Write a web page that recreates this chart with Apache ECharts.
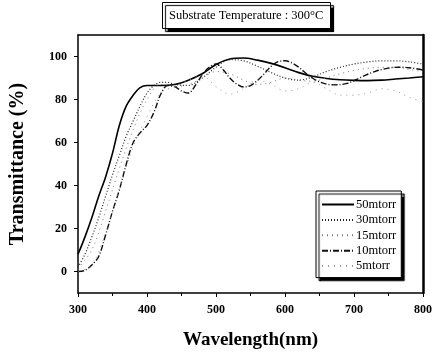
<!DOCTYPE html>
<html>
<head>
<meta charset="utf-8">
<script src="https://cdn.jsdelivr.net/npm/echarts@6/dist/echarts.min.js"></script>
<style>
  html, body { margin: 0; padding: 0; background: #fff; }
  #chart { width: 435px; height: 355px; }
</style>
</head>
<body>
<div id="chart"></div>
<script>
// wavelength (nm), transmittance (%) pairs
const t50 = [[300,8],[310,16],[320,25],[330,35],[340,44],[350,55],[360,68],[370,77],[380,82],[390,85.5],[400,86.5],[420,86.5],[440,87],[460,89],[480,92],[500,96.3],[520,98.8],[540,99.3],[560,98.3],[580,96.8],[600,94.8],[620,92.5],[640,90.8],[660,89.8],[680,89.2],[700,88.9],[720,88.8],[740,89],[760,89.5],[780,90],[800,90.6]];
const t30 = [[300,2],[310,8],[320,16],[330,25],[340,35],[350,45],[360,54],[370,63],[380,70],[390,77],[400,83],[410,86.5],[420,88],[430,88],[440,87],[460,86.5],[480,90],[500,95],[520,98.5],[540,98],[560,95.5],[580,92.5],[600,90],[620,89],[640,90.5],[660,93],[680,95],[700,96.5],[720,97.5],[740,98],[760,98],[780,97.5],[800,96.5]];
const t15 = [[300,1.5],[320,10],[340,28],[360,48],[380,66],[400,80],[420,87],[440,86],[460,87],[480,90],[500,93],[520,92],[540,89],[560,87],[580,88],[600,90],[620,89],[640,88.5],[660,90],[680,92],[700,93.5],[720,94.5],[740,95],[760,95],[780,94],[800,93]];
const t10 = [[300,0],[310,0.5],[320,3],[330,7],[340,17],[350,28],[360,38],[370,50],[380,60],[390,64.5],[400,68],[410,74],[420,82.5],[430,86.5],[440,86],[450,84],[460,83],[470,86.5],[480,91.5],[490,95],[500,96.5],[510,94],[520,90],[530,87.2],[540,85.8],[550,86.5],[560,88.8],[570,92],[580,95.5],[590,97.6],[600,98],[610,97],[620,95],[635,91],[650,88.2],[670,86.8],[690,87.5],[710,90.3],[730,93],[750,94.6],[765,95],[780,94.8],[800,93.7]];
const t5 = [[300,0],[320,3],[340,18],[360,38],[380,58],[400,72],[420,83],[440,86],[460,89],[480,91],[500,86],[520,82.5],[540,85],[560,89],[580,87],[600,84],[620,85],[640,88],[660,85],[680,82],[700,82],[720,83],[740,85],[760,84],[780,81],[800,79]];

const seriesNames = ["50mtorr", "30mtorr", "15mtorr", "10mtorr", "5mtorr"];
const yTicks = [0, 20, 40, 60, 80, 100];

const serif = "Liberation Serif";
const chart = echarts.init(document.getElementById("chart"));

function line(name, data, color, width, type) {
  return {
    name,
    type: "line",
    data,
    smooth: 0.35,
    symbol: "none",
    lineStyle: { color, width, type },
    itemStyle: { color },
  };
}

chart.setOption({
  animation: false,
  backgroundColor: "#fff",
  title: {
    text: "Substrate Temperature : 300°C",
    left: 162,
    top: 2,
    padding: [7, 7, 7, 7],
    borderColor: "#000",
    borderWidth: 1,
    backgroundColor: "#fff",
    shadowColor: "#000",
    shadowOffsetX: 3,
    shadowOffsetY: 3,
    shadowBlur: 1,
    textStyle: { fontFamily: serif, fontSize: 12.5, fontWeight: "normal", color: "#000" },
  },
  legend: {
    orient: "vertical",
    left: 316,
    top: 191,
    padding: [7, 5, 5, 5],
    itemWidth: 32,
    itemHeight: 11,
    itemGap: 2.4,
    borderColor: "#000",
    borderWidth: 1,
    backgroundColor: "#fff",
    shadowColor: "#000",
    shadowOffsetX: 3,
    shadowOffsetY: 3,
    shadowBlur: 1,
    itemStyle: { opacity: 0 },
    data: seriesNames,
    textStyle: { fontFamily: serif, fontSize: 12.5, color: "#000", padding: [0, 0, 0, -3] },
  },
  grid: { left: 76, right: 10, top: 35, bottom: 58 },
  xAxis: [
    {
      type: "value",
      min: 300,
      max: 800,
      interval: 100,
      name: "Wavelength(nm)",
      nameLocation: "middle",
      nameGap: 38,
      nameTextStyle: { fontFamily: serif, fontSize: 19, fontWeight: "bold", color: "#000" },
      axisLine: { onZero: false, lineStyle: { color: "#000", width: 1.5 } },
      axisTick: { inside: false, length: 4, lineStyle: { color: "#000" } },
      minorTick: { show: true, splitNumber: 2, length: 3, lineStyle: { color: "#000" } },
      axisLabel: { margin: 11, fontFamily: serif, fontSize: 12, fontWeight: "bold", color: "#000" },
      splitLine: { show: false },
    },
    {
      type: "value",
      position: "top",
      min: 300,
      max: 800,
      interval: 100,
      axisLine: { onZero: false, lineStyle: { color: "#000", width: 1.5 } },
      axisTick: { show: false },
      axisLabel: { show: false },
      splitLine: { show: false },
    },
  ],
  yAxis: [
    {
      type: "value",
      min: -10,
      max: 110,
      interval: 10,
      name: "Transmittance (%)",
      nameLocation: "middle",
      nameGap: 50,
      nameTextStyle: { fontFamily: serif, fontSize: 20, fontWeight: "bold", color: "#000" },
      axisLine: { onZero: false, lineStyle: { color: "#000", width: 1.5 } },
      axisTick: { length: 4, customValues: yTicks, lineStyle: { color: "#000" } },
      axisLabel: { customValues: yTicks, margin: 11, fontFamily: serif, fontSize: 12, fontWeight: "bold", color: "#000" },
      splitLine: { show: false },
    },
    {
      type: "value",
      position: "right",
      min: -10,
      max: 110,
      interval: 10,
      axisLine: { onZero: false, lineStyle: { color: "#000", width: 2.5 } },
      axisTick: { show: false },
      axisLabel: { show: false },
      splitLine: { show: false },
    },
  ],
  series: [
    line("50mtorr", t50, "#000", 1.6, "solid"),
    line("30mtorr", t30, "#222", 1.2, [1, 2]),
    line("15mtorr", t15, "#777", 1, [1, 4]),
    line("10mtorr", t10, "#111", 1.4, [6, 2, 1, 2]),
    line("5mtorr", t5, "#999", 1, [1, 5]),
  ],
});
</script>
</body>
</html>
